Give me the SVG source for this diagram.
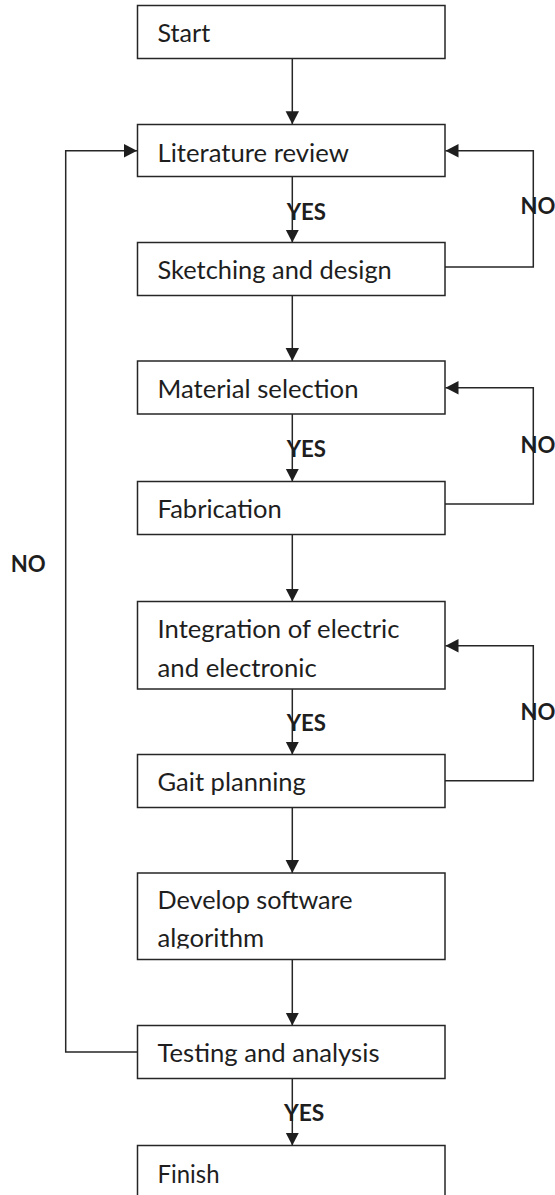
<svg xmlns="http://www.w3.org/2000/svg" width="555" height="1195" viewBox="0 0 555 1195">
<style>
.box{fill:#fff;stroke:#262626;stroke-width:1.5}
.t{font-family:Lato,"Open Sans","Liberation Sans",sans-serif;font-size:24.5px;fill:#1e1e1e}
.lbl{font-family:Lato,"Open Sans","Liberation Sans",sans-serif;font-size:23px;font-weight:bold;fill:#1e1e1e}
.c{fill:none;stroke:#262626;stroke-width:1.5}
</style>
<defs>
<marker id="ah" markerUnits="userSpaceOnUse" markerWidth="14" markerHeight="14" viewBox="0 0 14 14" refX="13" refY="7" orient="auto">
<path d="M0,0.3 L13,7 L0,13.7 Z" fill="#1e1e1e"/>
</marker>
<clipPath id="clipDev"><rect x="137" y="873" width="308" height="75.5"/></clipPath>
</defs>
<g id="connectors">
<line class="c" x1="292.3" y1="58.7" x2="292.3" y2="124.3" marker-end="url(#ah)"/>
<line class="c" x1="292.3" y1="176.7" x2="292.3" y2="242.5" marker-end="url(#ah)"/>
<line class="c" x1="292.3" y1="295.7" x2="292.3" y2="361" marker-end="url(#ah)"/>
<line class="c" x1="292.3" y1="414" x2="292.3" y2="481.5" marker-end="url(#ah)"/>
<line class="c" x1="292.3" y1="534.7" x2="292.3" y2="601.5" marker-end="url(#ah)"/>
<line class="c" x1="292.3" y1="689" x2="292.3" y2="754.5" marker-end="url(#ah)"/>
<line class="c" x1="292.3" y1="807.5" x2="292.3" y2="873" marker-end="url(#ah)"/>
<line class="c" x1="292.3" y1="959.5" x2="292.3" y2="1025.5" marker-end="url(#ah)"/>
<line class="c" x1="292.3" y1="1078.5" x2="292.3" y2="1145.5" marker-end="url(#ah)"/>
<polyline class="c" points="445,267 533.3,267 533.3,150.7 445.5,150.7" marker-end="url(#ah)"/>
<polyline class="c" points="445,504 533.3,504 533.3,387.7 445.5,387.7" marker-end="url(#ah)"/>
<polyline class="c" points="445,780.7 533.3,780.7 533.3,645.7 445.5,645.7" marker-end="url(#ah)"/>
<polyline class="c" points="137.5,1052 65.7,1052 65.7,150.7 137,150.7" marker-end="url(#ah)"/>
<text class="lbl" x="286.7" y="220" textLength="39.3" lengthAdjust="spacingAndGlyphs">YES</text>
<text class="lbl" x="286.7" y="456.7" textLength="39.3" lengthAdjust="spacingAndGlyphs">YES</text>
<text class="lbl" x="286.7" y="730.7" textLength="39.3" lengthAdjust="spacingAndGlyphs">YES</text>
<text class="lbl" x="284" y="1120.7" textLength="40.3" lengthAdjust="spacingAndGlyphs">YES</text>
<text class="lbl" x="520.5" y="213.5" textLength="35" lengthAdjust="spacingAndGlyphs">NO</text>
<text class="lbl" x="520.5" y="453.3" textLength="35" lengthAdjust="spacingAndGlyphs">NO</text>
<text class="lbl" x="520.5" y="720" textLength="35" lengthAdjust="spacingAndGlyphs">NO</text>
<text class="lbl" x="10.7" y="572.3" textLength="35" lengthAdjust="spacingAndGlyphs">NO</text>
</g>
<g id="start"><rect class="box" x="137.5" y="5.5" width="307.5" height="53"/><text class="t" x="157.5" y="42.3" textLength="52.7" lengthAdjust="spacingAndGlyphs">Start</text></g>
<g id="literature"><rect class="box" x="137.5" y="124.5" width="307.5" height="52"/><text class="t" x="157.5" y="161.7" textLength="191.3" lengthAdjust="spacingAndGlyphs">Literature review</text></g>
<g id="sketching"><rect class="box" x="137.5" y="242.5" width="307.5" height="53"/><text class="t" x="157.5" y="279" textLength="234.3" lengthAdjust="spacingAndGlyphs">Sketching and design</text></g>
<g id="material"><rect class="box" x="137.5" y="361" width="307.5" height="53"/><text class="t" x="157.5" y="398.3" textLength="201" lengthAdjust="spacingAndGlyphs">Material selection</text></g>
<g id="fabrication"><rect class="box" x="137.5" y="481.5" width="307.5" height="53"/><text class="t" x="157.5" y="518.3" textLength="124.3" lengthAdjust="spacingAndGlyphs">Fabrication</text></g>
<g id="integration"><rect class="box" x="137.5" y="601.5" width="307.5" height="87.5"/><text class="t" x="157.5" y="638.3" textLength="242" lengthAdjust="spacingAndGlyphs">Integration of electric</text><text class="t" x="157.5" y="676.7" textLength="159.3" lengthAdjust="spacingAndGlyphs">and electronic</text></g>
<g id="gait"><rect class="box" x="137.5" y="754.5" width="307.5" height="53"/><text class="t" x="157.5" y="790.7" textLength="148.3" lengthAdjust="spacingAndGlyphs">Gait planning</text></g>
<g id="develop"><rect class="box" x="137.5" y="873" width="307.5" height="86.5"/><g clip-path="url(#clipDev)"><text class="t" x="157.5" y="909.3" textLength="195" lengthAdjust="spacingAndGlyphs">Develop software</text><text class="t" x="157.5" y="947.3" textLength="106.7" lengthAdjust="spacingAndGlyphs">algorithm</text></g></g>
<g id="testing"><rect class="box" x="137.5" y="1025.5" width="307.5" height="53"/><text class="t" x="157.5" y="1062.3" textLength="222" lengthAdjust="spacingAndGlyphs">Testing and analysis</text></g>
<g id="finish"><rect class="box" x="137.5" y="1145.5" width="307.5" height="60"/><text class="t" x="157.5" y="1183.3" textLength="62" lengthAdjust="spacingAndGlyphs">Finish</text></g>
</svg>
